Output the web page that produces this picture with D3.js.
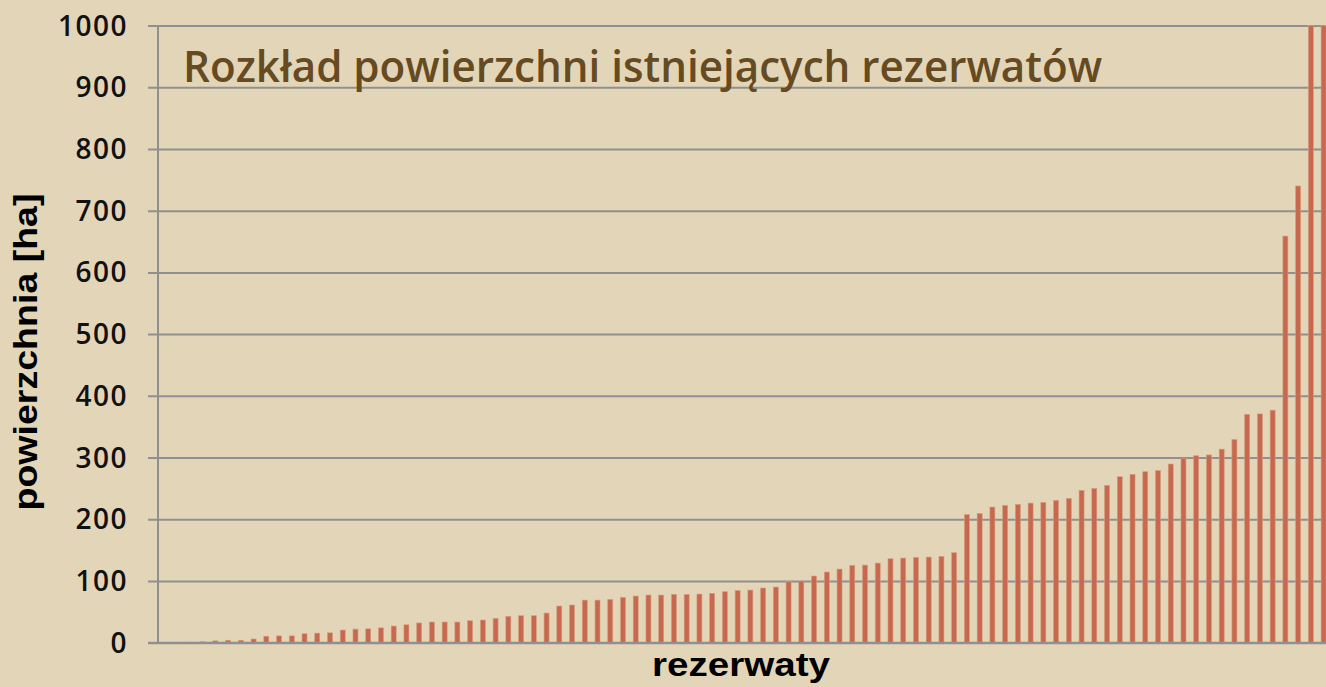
<!DOCTYPE html>
<html>
<head>
<meta charset="utf-8">
<script src="https://cdn.jsdelivr.net/npm/d3@7"></script>
<style>
html,body{margin:0;padding:0;background:#E3D5B7;overflow:hidden;}
svg{display:block;}
</style>
</head>
<body>
<svg id="chart" width="1326" height="687"></svg>
<script>
// Areas of reserves [ha], sorted ascending (last two run off the top)
const areas = [
  0.3, 0.5, 0.8, 1.5, 3, 4, 4, 6, 10.5, 11,
  11, 14.5, 15.5, 16, 20.5, 22, 22.5, 24, 27, 29,
  32, 33.5, 33.5, 33.5, 35.6, 36.7, 39.4, 42.7, 43.7, 43.7,
  48, 59.4, 61, 69, 69, 70.2, 73.4, 75.6, 77.2, 77.2,
  78.3, 78.3, 78.8, 80, 82.6, 84.5, 85.3, 88.6, 90.2, 98.8,
  99.9, 108, 114.5, 119.3, 125.3, 125.8, 129, 136, 137.1, 138.2,
  138.8, 139.8, 145.8, 207.5, 209.3, 219.8, 222.5, 224, 226.2, 227.3,
  230.6, 233.8, 246.8, 250, 254.9, 268.9, 272.7, 277, 278.7, 289.5,
  298.9, 302.9, 304.2, 313.6, 329.1, 370, 370.7, 376.8, 658.8, 740,
  1000, 1000
];
const categories = areas.map((_, i) => "r" + (i + 1));
const yTicks = [0, 100, 200, 300, 400, 500, 600, 700, 800, 900, 1000];
const titleText = "Rozkład powierzchni istniejących rezerwatów";
const yTitle = "powierzchnia [ha]";
const xTitle = "rezerwaty";

(function () {
const svg = d3.select("#chart");
const pLeft = 158, pRight = 1330, pTop = 25.5, pBottom = 642.7;

const x = d3.scaleBand().domain(categories).range([pLeft, pRight])
  .paddingInner(0.6075).paddingOuter(0.306);
const y = d3.scaleLinear().domain([0, 1000]).range([pBottom, pTop]).clamp(true);

svg.append("rect").attr("width", 1326).attr("height", 687).attr("fill", "#E3D5B7");

// gridlines + tick marks
const yAxis = d3.axisLeft(y).tickValues(yTicks).tickSize(-(1326 - pLeft)).tickSizeOuter(0).tickFormat("");
const gAx = svg.append("g").attr("transform", `translate(${pLeft},0)`).call(yAxis);
gAx.select(".domain").remove();
gAx.selectAll(".tick line").attr("stroke", "#909090").attr("stroke-width", 2).attr("x1", -10);

// tick labels
svg.append("g").selectAll("text").data(yTicks).join("text")
  .attr("x", 128).attr("y", d => y(d)).attr("dy", "0.36em")
  .attr("text-anchor", "end")
  .attr("font-family", "Open Sans, DejaVu Sans, sans-serif").attr("font-size", 28)
  .attr("font-weight", 600).attr("fill", "#111")
  .attr("letter-spacing", 1.5)
  .text(d => d);

// vertical axis line
svg.append("line").attr("x1", pLeft).attr("x2", pLeft).attr("y1", pTop).attr("y2", pBottom)
  .attr("stroke", "#909090").attr("stroke-width", 2);

// bars
svg.append("g").selectAll("rect").data(areas).join("rect")
  .attr("x", (d, i) => x(categories[i]))
  .attr("width", x.bandwidth())
  .attr("y", d => y(d))
  .attr("height", d => pBottom - y(d))
  .attr("fill", "#C8694F")
  .attr("stroke", "#D59C80").attr("stroke-width", 0.6);

// baseline
svg.append("line").attr("x1", pLeft - 10).attr("x2", 1326).attr("y1", pBottom).attr("y2", pBottom)
  .attr("stroke", "#909090").attr("stroke-width", 2);

// title
svg.append("text").attr("x", 183).attr("y", 82)
  .attr("font-family", "Open Sans, Liberation Sans, Arial, sans-serif").attr("font-size", 43)
  .attr("font-weight", 600)
  .attr("fill", "#654A22")
  .attr("textLength", 919).attr("lengthAdjust", "spacingAndGlyphs")
  .text(titleText);

// y title
svg.append("text").attr("transform", "translate(37,352) rotate(-90)")
  .attr("text-anchor", "middle")
  .attr("font-family", "Liberation Sans, Arial, sans-serif").attr("font-size", 33)
  .attr("font-weight", "bold").attr("fill", "#000")
  .attr("textLength", 317).attr("lengthAdjust", "spacingAndGlyphs")
  .text(yTitle);

// x title
svg.append("text").attr("x", 741).attr("y", 676)
  .attr("text-anchor", "middle")
  .attr("font-family", "Liberation Sans, Arial, sans-serif").attr("font-size", 33)
  .attr("font-weight", "bold").attr("fill", "#000")
  .attr("textLength", 178).attr("lengthAdjust", "spacingAndGlyphs")
  .text(xTitle);
})();
</script>
</body>
</html>
